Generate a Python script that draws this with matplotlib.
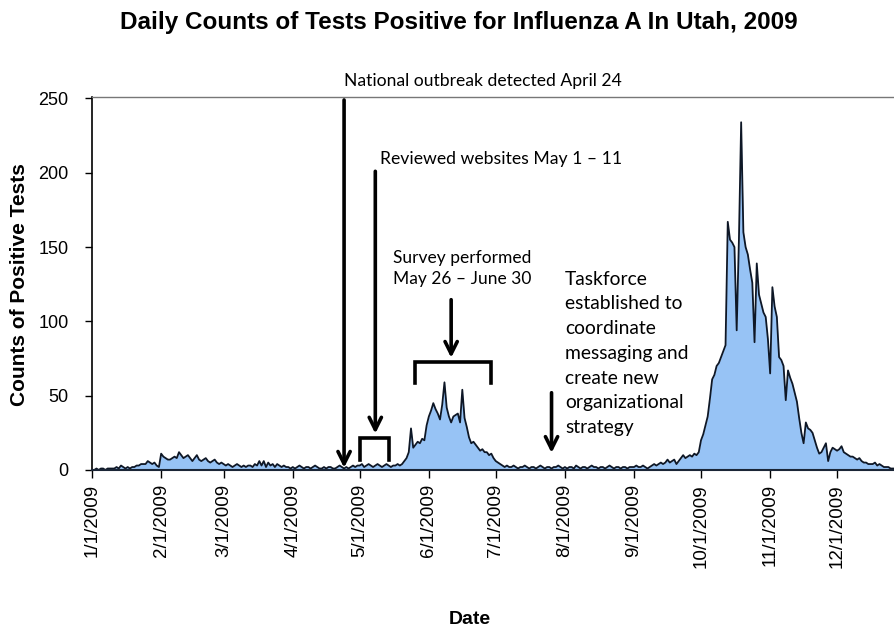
import numpy as np
import matplotlib
matplotlib.use('Agg')
import matplotlib.pyplot as plt
import matplotlib.dates as mdates

# Daily counts of positive influenza A tests (one list per month)
jan = [0, 0, 1, 0, 1, 1, 0, 1, 1, 1, 1, 2, 1, 3, 2, 1, 2, 1, 2, 2, 3, 3, 4, 4, 4, 6, 5, 4, 5, 3, 2]
feb = [11, 9, 8, 7, 7, 8, 9, 8, 12, 10, 8, 9, 10, 8, 6, 8, 10, 7, 6, 7, 8, 6, 5, 6, 7, 5, 4, 5]
mar = [4, 3, 4, 3, 2, 3, 4, 3, 2, 3, 2, 3, 3, 2, 4, 3, 6, 3, 6, 2, 5, 3, 4, 2, 4, 3, 2, 3, 2, 2, 1]
apr = [2, 1, 2, 3, 2, 1, 2, 2, 1, 2, 3, 2, 1, 1, 2, 1, 2, 2, 1, 1, 2, 3, 2, 1, 2, 1, 2, 3, 2, 3]
may = [3, 4, 2, 3, 4, 3, 2, 3, 4, 3, 2, 3, 4, 3, 2, 3, 3, 4, 3, 4, 6, 8, 12, 28, 15, 17, 19, 18, 21, 20, 30]
jun = [36, 40, 45, 41, 38, 34, 44, 59, 42, 36, 32, 36, 37, 38, 32, 54, 35, 29, 22, 18,
       19, 17, 15, 13, 14, 12, 12, 10, 11, 8]
jul = [6, 5, 4, 3, 2, 3, 2, 2, 3, 2, 1, 2, 2, 3, 2, 1, 2, 2, 1, 2, 3, 2, 1, 2, 2, 1, 2, 2, 3, 2, 1]
aug = [2, 1, 2, 2, 1, 3, 2, 1, 2, 2, 1, 2, 3, 2, 2, 1, 2, 2, 1, 2, 3, 2, 1, 2, 2, 1, 2, 2, 1, 2, 2]
sep = [2, 3, 2, 2, 3, 2, 1, 2, 3, 4, 3, 4, 5, 4, 5, 7, 5, 6, 7, 4, 6, 8, 10, 8, 9, 10, 9, 11, 10, 12]
oct_ = [20, 24, 30, 36, 48, 61, 64, 70, 72, 76, 80, 84, 167, 155, 153, 150, 94, 155, 234, 160,
        150, 145, 135, 126, 86, 139, 118, 112, 106, 103, 88]
nov = [65, 123, 110, 103, 76, 74, 70, 47, 67, 62, 58, 52, 46, 35, 25, 18, 32, 28, 27, 25,
       20, 15, 11, 12, 15, 18, 6, 12, 15, 14]
dec = [13, 14, 16, 12, 11, 10, 9, 9, 8, 7, 8, 6, 5, 5, 4, 4, 4, 5, 3, 4, 3, 2, 2, 2, 1, 1, 1, 1, 0, 1, 0]

counts = np.array(jan + feb + mar + apr + may + jun + jul + aug + sep + oct_ + nov + dec)
dates = np.arange(np.datetime64('2009-01-01'), np.datetime64('2010-01-01'))

tick_dates = np.arange(np.datetime64('2009-01'), np.datetime64('2010-01'), dtype='datetime64[M]').astype('datetime64[D]')
tick_labels = ['%d/1/2009' % m for m in range(1, 13)]

ann_font = 'Lato'
fill_col = '#97c3f5'
line_col = '#0e1726'

fig = plt.figure(figsize=(8.94, 6.32), dpi=100)
ax = fig.add_axes([92 / 894, (632 - 470) / 632, 812 / 894, 373 / 632])

ax.fill_between(dates, counts, color=fill_col, lw=0)
ax.plot(dates, counts, color=line_col, lw=1.3)

ax.set_xlim(np.datetime64('2009-01-01'), np.datetime64('2009-12-31'))
ax.set_ylim(0, 251)
ax.set_yticks([0, 50, 100, 150, 200, 250])
ax.set_xticks(tick_dates)
ax.set_xticklabels(tick_labels, rotation=90, fontsize=13.5, family='Liberation Sans')
for lab in ax.get_yticklabels():
    lab.set_fontsize(13)
    lab.set_family('Liberation Sans')
ax.tick_params(axis='x', length=6, width=1, pad=4)
ax.tick_params(axis='y', length=5, width=1, pad=12)

ax.spines['right'].set_visible(False)
ax.spines['top'].set_color('#777777')
ax.spines['top'].set_linewidth(1)
ax.spines['left'].set_linewidth(1.2)
ax.spines['bottom'].set_linewidth(1.5)
ax.spines['bottom'].set_color('#1a2536')


def d(s):
    return mdates.date2num(np.datetime64(s))


arrow = dict(arrowstyle='->', lw=2.6, color='black', mutation_scale=22, shrinkA=0, shrinkB=0)

# National outbreak arrow
ax.annotate('', xy=(d('2009-04-24'), 1.5), xytext=(d('2009-04-24'), 249),
            arrowprops=arrow, annotation_clip=False)
ax.text(d('2009-04-24'), 261.5, 'National outbreak detected April 24', family=ann_font,
        fontsize=12.6, va='center', ha='left', clip_on=False)

# Reviewed websites
ax.annotate('', xy=(d('2009-05-08'), 24.5), xytext=(d('2009-05-08'), 201),
            arrowprops=arrow, annotation_clip=False)
ax.plot([d('2009-05-01'), d('2009-05-01'), d('2009-05-14'), d('2009-05-14')],
        [6.7, 21.6, 21.6, 6.7], color='black', lw=2.6, solid_joinstyle='miter')
ax.text(d('2009-05-10'), 209, 'Reviewed websites May 1 \u2013 11', family=ann_font,
        fontsize=12.7, va='center', ha='left')

# Survey
ax.annotate('', xy=(d('2009-06-11'), 75.5), xytext=(d('2009-06-11'), 114.6),
            arrowprops=arrow, annotation_clip=False)
ax.plot([d('2009-05-26'), d('2009-05-26'), d('2009-06-29'), d('2009-06-29')],
        [58.6, 72.8, 72.8, 58.6], color='black', lw=2.6, solid_joinstyle='miter')
ax.text(d('2009-05-16'), 135.4, 'Survey performed\nMay 26 \u2013 June 30', family=ann_font,
        fontsize=12.5, va='center', ha='left', linespacing=1.38)

# Taskforce
ax.annotate('', xy=(d('2009-07-26'), 11.5), xytext=(d('2009-07-26'), 52),
            arrowprops=arrow, annotation_clip=False)
ax.text(d('2009-08-01'), 78.5, 'Taskforce\nestablished to\ncoordinate\nmessaging and\ncreate new\norganizational\nstrategy',
        family=ann_font, fontsize=13.9, va='center', ha='left', linespacing=1.55)

fig.text(459 / 894, 1 - 23 / 632, 'Daily Counts of Tests Positive for Influenza A In Utah, 2009',
         ha='center', va='center', fontsize=17.5, weight='bold', family='Liberation Sans')
fig.text(20 / 894, 1 - 285 / 632, 'Counts of Positive Tests', rotation=90, ha='center', va='center',
         fontsize=15, weight='bold', family='Liberation Sans')
fig.text(470 / 894, 1 - 620 / 632, 'Date', ha='center', va='center', fontsize=14,
         weight='bold', family='Liberation Sans')

fig.savefig('out.png', dpi=100)
